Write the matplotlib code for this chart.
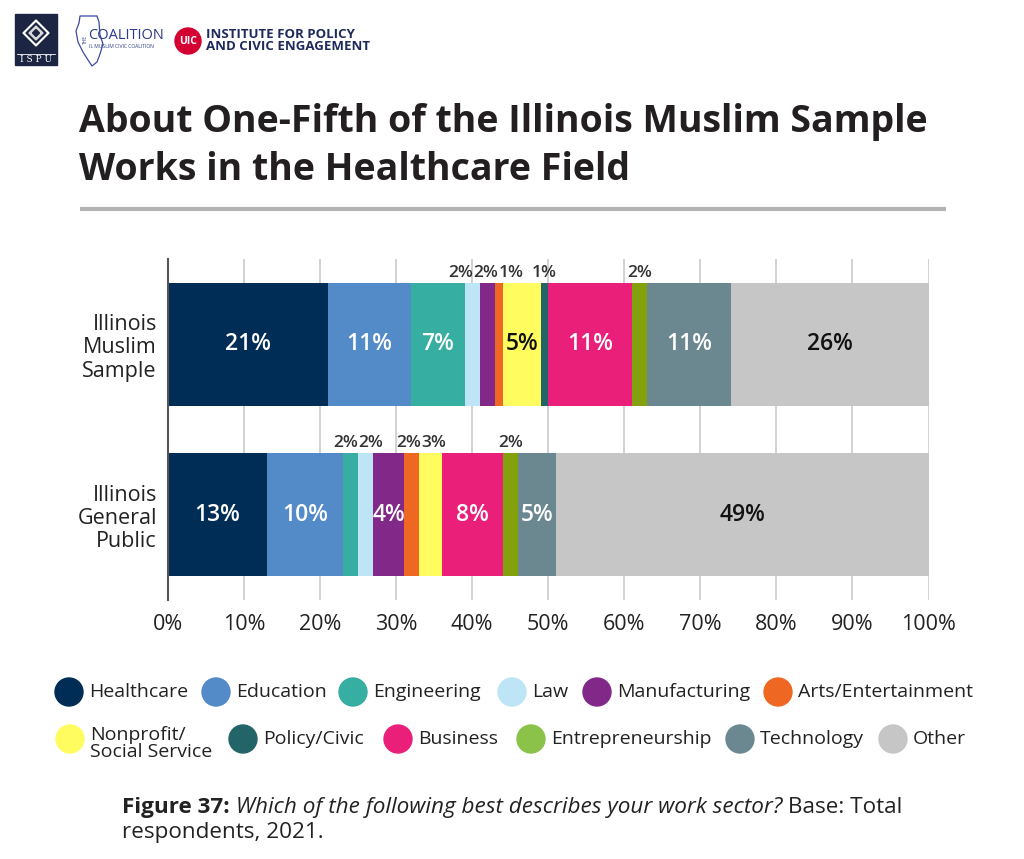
import matplotlib.pyplot as plt
from matplotlib.patches import Circle, Rectangle, Polygon

plt.rcParams['font.family'] = ['Open Sans', 'DejaVu Sans']

# data
sectors = ['Healthcare', 'Education', 'Engineering', 'Law', 'Manufacturing',
           'Arts/Entertainment', 'Nonprofit/\nSocial Service', 'Policy/Civic',
           'Business', 'Entrepreneurship', 'Technology', 'Other']
groups = ['Illinois\nMuslim\nSample', 'Illinois\nGeneral\nPublic']
muslim = [21, 11, 7, 2, 2, 1, 5, 1, 11, 2, 11, 26]
general = [13, 10, 2, 2, 4, 2, 3, 0, 8, 2, 5, 49]
bar_colors = ['#002d55', '#538bc8', '#36afa2', '#bee5f5', '#822888', '#ee6723',
              '#fffc60', '#236469', '#e91f7a', '#83a10d', '#6b8890', '#c6c6c6']
legend_colors = ['#002d55', '#538bc8', '#36afa2', '#bee5f5', '#822888', '#ee6723',
                 '#fffc60', '#236469', '#e91f7a', '#8bc34a', '#6b8890', '#c6c6c6']
dark_text = ['Nonprofit/\nSocial Service', 'Other']
ticks = list(range(0, 101, 10))
tick_labels = [f'{t}%' for t in ticks]

fig = plt.figure(figsize=(10.24, 8.59), dpi=100)
W, H = 1024, 859

# overlay in pixel coords for header, legend, caption
deco = fig.add_axes([0, 0, 1, 1])
deco.set_xlim(0, W)
deco.set_ylim(H, 0)
deco.axis('off')

ax = fig.add_axes([168 / W, 1 - 600 / H, 760.5 / W, 341 / H])
ax.set_xlim(0, 100)
ax.set_ylim(1.5, -0.5)

bar_h = 0.72
label_pitch = 3.3  # min spacing of small labels, in %
for gi, vals in enumerate([muslim, general]):
    left = 0
    small = []
    for si, v in enumerate(vals):
        ax.barh(gi, v, left=left, height=bar_h, color=bar_colors[si], zorder=2)
        mid = left + v / 2
        if v >= 4:
            col = '#111111' if sectors[si] in dark_text else 'white'
            ax.text(mid, gi, f'{v}%', ha='center', va='center', color=col,
                    fontsize=16.5, fontweight='semibold', zorder=3)
        elif v > 0:
            small.append([mid, v])
        left += v
    # spread the small labels so they do not overlap
    for _ in range(50):
        for i in range(len(small) - 1):
            gap = small[i + 1][0] - small[i][0]
            if gap < label_pitch:
                push = (label_pitch - gap) / 2
                small[i][0] -= push
                small[i + 1][0] += push
    for x, v in small:
        ax.annotate(f'{v}%', (x, gi - bar_h / 2), xytext=(0, 1.5),
                    textcoords='offset points', ha='center', va='bottom',
                    fontsize=12.5, fontweight='semibold', color='#333333')

ax.set_xticks(ticks)
ax.set_xticklabels(tick_labels)
ax.set_yticks([0, 1])
ax.set_yticklabels(groups, fontsize=15.5, linespacing=1.15, color='#222222')
ax.tick_params(axis='x', length=0, pad=10, labelsize=15.5, labelcolor='#222222')
ax.tick_params(axis='y', length=0, pad=8)
ax.grid(axis='x', color='#cfcfcf', lw=1.3, zorder=0)
ax.set_axisbelow(True)
for s in ['top', 'right', 'bottom']:
    ax.spines[s].set_visible(False)
ax.spines['left'].set_color('#555555')
ax.spines['left'].set_linewidth(1.5)
ax.spines['left'].set_zorder(4)

# header logos
deco.add_patch(Rectangle((15, 14), 42, 51, color='#1c2541'))
for r, c in [(13, 'white'), (10, '#1c2541'), (7, '#d8d8d8'), (3.5, '#1c2541')]:
    deco.add_patch(Polygon([(36, 33 - r), (36 + r, 33), (36, 33 + r), (36 - r, 33)], color=c))
deco.plot([17, 55], [54, 54], color='white', lw=0.6)
deco.text(36, 59.5, 'I S P U', color='white', fontsize=6.5, ha='center', va='center',
          family='DejaVu Serif')
illinois = [(80, 16), (97, 16), (99, 22), (100, 35), (103, 44), (100, 54), (97, 62),
            (92, 66), (88, 60), (83, 52), (78, 42), (76, 31), (79, 23)]
deco.add_patch(Polygon(illinois, fill=False, edgecolor='#3b4aa0', lw=0.9))
deco.text(85, 40, 'THE', fontsize=3.5, rotation=90, color='#2b3a8c', ha='center', va='center')
deco.text(88, 39, 'COALITION', fontsize=10.5, color='#2b3a8c', ha='left', va='baseline')
deco.text(89, 46, 'IL MUSLIM CIVIC COALITION', fontsize=3.6, color='#2b3a8c',
          ha='left', va='center')
deco.add_patch(Circle((188, 41), 13, color='#d50032'))
deco.text(188, 41.5, 'UIC', color='white', fontsize=7.5, fontweight='bold',
          ha='center', va='center')
deco.text(206, 34, 'INSTITUTE FOR POLICY', color='#1f2a5c', fontsize=9.5,
          fontweight='bold', ha='left', va='center')
deco.text(206, 47, 'AND CIVIC ENGAGEMENT', color='#1f2a5c', fontsize=9.5,
          fontweight='bold', ha='left', va='center')

# title and rule
deco.text(79, 132, 'About One-Fifth of the Illinois Muslim Sample', fontsize=27,
          fontweight='bold', color='#231f20', va='baseline')
deco.text(79, 180, 'Works in the Healthcare Field', fontsize=27,
          fontweight='bold', color='#231f20', va='baseline')
deco.plot([80, 946], [209, 209], color='#b3b3b3', lw=3, solid_capstyle='butt')

# legend (flow layout as in the original)
leg_x = [69, 216, 353, 512, 597, 778, 70, 243, 398, 531, 740, 893]
leg_y = [692] * 6 + [739] * 6
for i, name in enumerate(sectors):
    deco.add_patch(Circle((leg_x[i], leg_y[i]), 14, color=legend_colors[i]))
    if '\n' in name:
        deco.text(leg_x[i] + 20, leg_y[i] - 13, name, fontsize=14, color='#222222',
                  va='top', ha='left', linespacing=0.9)
    else:
        deco.text(leg_x[i] + 20, leg_y[i], name, fontsize=14, color='#222222',
                  va='center', ha='left')

# caption with mixed styles
renderer = fig.canvas.get_renderer()
x = 122
for txt, style in [('Figure 37:', dict(fontweight='bold')),
                   (' Which of the following best describes your work sector?', dict(fontstyle='italic')),
                   (' Base: Total', dict())]:
    t = deco.text(x, 813, txt, fontsize=16.2, color='#222222', va='baseline', ha='left', **style)
    x += t.get_window_extent(renderer).width
deco.text(122, 838, 'respondents, 2021.', fontsize=16.2, color='#222222', va='baseline', ha='left')

fig.savefig('out.png', dpi=100)
